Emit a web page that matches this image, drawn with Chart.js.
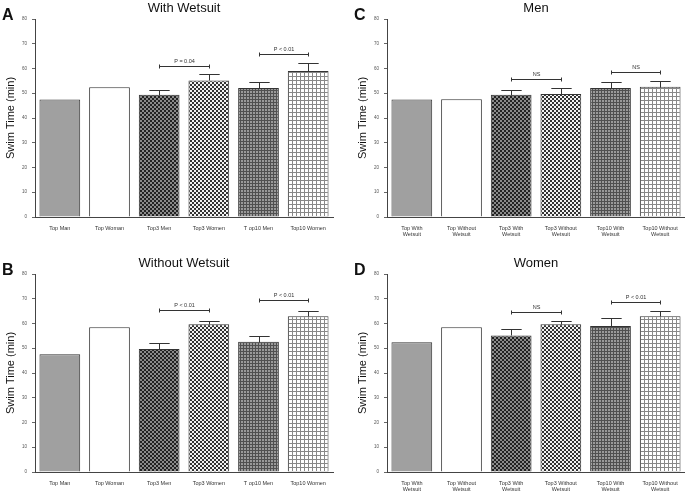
<!DOCTYPE html>
<html>
<head>
<meta charset="utf-8">
<script src="https://cdn.jsdelivr.net/npm/chart.js@4.4.1/dist/chart.umd.min.js"></script>
<style>
  html, body { margin:0; padding:0; background:#fff; overflow:hidden; }
  body { position:relative; width:685px; height:491px; }
  canvas.panel { position:absolute; }
</style>
</head>
<body>
<canvas id="chartA" class="panel" width="335" height="236" style="left:0;top:0"></canvas>
<canvas id="chartC" class="panel" width="335" height="236" style="left:352px;top:0"></canvas>
<canvas id="chartB" class="panel" width="335" height="236" style="left:0;top:255px"></canvas>
<canvas id="chartD" class="panel" width="335" height="236" style="left:352px;top:255px"></canvas>
<script>
// categories
const labelsSex = ['Top Man', 'Top Woman', 'Top3 Men', 'Top3 Women', 'T op10 Men', 'Top10 Women'];
const labelsSuit = [['Top With', 'Wetsuit'], ['Top Without', 'Wetsuit'], ['Top3 With', 'Wetsuit'],
                    ['Top3 Without', 'Wetsuit'], ['Top10 With', 'Wetsuit'], ['Top10 Without', 'Wetsuit']];
const yTicks = [0, 10, 20, 30, 40, 50, 60, 70, 80];

// swim times (min) and upper error (SD)
const withWetsuit = [47.5, 52.4, 49.4, 55.2, 52.1, 59.0];
const withWetsuitErr = [0, 0, 2.1, 2.4, 2.6, 3.1];
const withoutWetsuit = [47.6, 58.5, 49.7, 59.7, 52.6, 62.9];
const withoutWetsuitErr = [0, 0, 2.5, 1.5, 2.4, 2.3];
const men = [47.5, 47.6, 49.4, 49.7, 52.1, 52.6];
const menErr = [0, 0, 2.1, 2.5, 2.6, 2.4];
const women = [52.4, 58.5, 55.2, 59.7, 59.0, 62.9];
const womenErr = [0, 0, 2.4, 1.5, 3.1, 2.3];

// significance brackets: [from, to, level, text]
const bracketsA = [[2, 3, 61.0, 'P = 0.04'], [4, 5, 65.8, 'P < 0.01']];
const bracketsB = [[2, 3, 65.3, 'P < 0.01'], [4, 5, 69.4, 'P < 0.01']];
const bracketsC = [[2, 3, 55.6, 'NS'], [4, 5, 58.4, 'NS']];
const bracketsD = [[2, 3, 64.7, 'NS'], [4, 5, 68.8, 'P < 0.01']];

function tile(size, draw){
  const c = document.createElement('canvas');
  c.width = size; c.height = size;
  draw(c.getContext('2d'));
  return c.getContext('2d').createPattern(c, 'repeat');
}

const patDarkCheck = tile(4, g => { g.fillStyle = '#222'; g.fillRect(0,0,4,4); g.fillStyle = '#8a8a8a'; g.fillRect(0,0,2,2); g.fillRect(2,2,2,2); });
const patLightCheck = tile(4, g => { g.fillStyle = '#333'; g.fillRect(0,0,4,4); g.fillStyle = '#f2f2f2'; g.fillRect(0,0,2,2); g.fillRect(2,2,2,2); });
const patDarkGrid = tile(3, g => { g.fillStyle = '#9a9a9a'; g.fillRect(0,0,3,3); g.fillStyle = '#505050'; g.fillRect(0,0,3,1); g.fillRect(0,0,1,3); });
const patLightGrid = tile(4, g => { g.fillStyle = '#fff'; g.fillRect(0,0,4,4); g.fillStyle = '#888'; g.fillRect(0,0,4,1); g.fillRect(0,0,1,4); });
const barFills = ['#a0a0a0', '#ffffff', patDarkCheck, patLightCheck, patDarkGrid, patLightGrid];

function decor(letter, title, errs, brackets){
  return {
    id: 'decor' + letter,
    afterDatasetsDraw(chart){
      const ctx = chart.ctx, y = chart.scales.y;
      const meta = chart.getDatasetMeta(0);
      const vals = chart.data.datasets[0].data;
      ctx.save();
      ctx.strokeStyle = '#333'; ctx.lineWidth = 1;
      errs.forEach((e, i) => {
        if (!e) return;
        const bar = meta.data[i];
        const x = Math.round(bar.x) + 0.5;
        const y0 = Math.round(y.getPixelForValue(vals[i])) + 0.5;
        const y1 = Math.round(y.getPixelForValue(vals[i] + e)) + 0.5;
        const half = bar.width / 4;
        ctx.beginPath();
        ctx.moveTo(x, y0); ctx.lineTo(x, y1);
        ctx.moveTo(x - half, y1); ctx.lineTo(x + half, y1);
        ctx.stroke();
      });
      ctx.font = '5.5px "Liberation Sans", Arial, sans-serif';
      ctx.fillStyle = '#333';
      ctx.textAlign = 'center'; ctx.textBaseline = 'middle';
      brackets.forEach(b => {
        const x1 = Math.round(meta.data[b[0]].x) + 0.5;
        const x2 = Math.round(meta.data[b[1]].x) + 0.5;
        const yy = Math.round(y.getPixelForValue(b[2])) + 0.5;
        ctx.beginPath();
        ctx.moveTo(x1, yy); ctx.lineTo(x2, yy);
        ctx.moveTo(x1, yy - 2); ctx.lineTo(x1, yy + 2);
        ctx.moveTo(x2, yy - 2); ctx.lineTo(x2, yy + 2);
        ctx.stroke();
        ctx.fillText(b[3], (x1 + x2) / 2, yy - 5);
      });
      ctx.restore();
    },
    afterDraw(chart){
      const ctx = chart.ctx, a = chart.chartArea;
      ctx.save();
      ctx.fillStyle = '#111';
      ctx.textBaseline = 'alphabetic';
      ctx.font = 'bold 16px "Liberation Sans", Arial, sans-serif';
      ctx.textAlign = 'left';
      ctx.fillText(letter, 2, 19.5);
      ctx.font = '13px "Liberation Sans", Arial, sans-serif';
      ctx.textAlign = 'center';
      ctx.fillText(title, (a.left + a.right) / 2, 11.5);
      ctx.restore();
    }
  };
}

function makeChart(id, letter, title, labels, values, errs, brackets){
  return new Chart(document.getElementById(id), {
    type: 'bar',
    data: {
      labels: labels,
      datasets: [{
        data: values,
        backgroundColor: barFills,
        borderColor: '#333',
        borderWidth: 1,
        categoryPercentage: 1,
        barPercentage: 0.82
      }]
    },
    options: {
      responsive: false,
      animation: false,
      devicePixelRatio: 1,
      layout: { padding: { top: 19, right: 2, left: 0, bottom: 0 } },
      plugins: { legend: { display: false }, tooltip: { enabled: false }, title: { display: false } },
      scales: {
        x: {
          grid: { display: false, drawTicks: false },
          border: { display: true, color: '#444', width: 1 },
          ticks: {
            color: '#333', padding: 8, maxRotation: 0, autoSkip: false,
            font: { family: '"Liberation Sans", Arial, sans-serif', size: 5.5, lineHeight: 1.15 }
          },
          afterFit(s){ s.height = 19; }
        },
        y: {
          min: 0, max: 80,
          afterBuildTicks(s){ s.ticks = yTicks.map(v => ({ value: v })); },
          grid: { display: true, drawOnChartArea: false, drawTicks: true, tickLength: 3, color: '#666' },
          border: { display: true, color: '#444', width: 1 },
          ticks: {
            color: '#555', padding: 5,
            font: { family: '"Liberation Sans", Arial, sans-serif', size: 4.5 }
          },
          title: {
            display: true, text: 'Swim Time (min)', color: '#111',
            padding: { top: 4, bottom: 0 },
            font: { family: '"Liberation Sans", Arial, sans-serif', size: 11 }
          },
          afterFit(s){ s.width = 35; }
        }
      }
    },
    plugins: [decor(letter, title, errs, brackets)]
  });
}

makeChart('chartA', 'A', 'With Wetsuit', labelsSex, withWetsuit, withWetsuitErr, bracketsA);
makeChart('chartB', 'B', 'Without Wetsuit', labelsSex, withoutWetsuit, withoutWetsuitErr, bracketsB);
makeChart('chartC', 'C', 'Men', labelsSuit, men, menErr, bracketsC);
makeChart('chartD', 'D', 'Women', labelsSuit, women, womenErr, bracketsD);
</script>
</body>
</html>
